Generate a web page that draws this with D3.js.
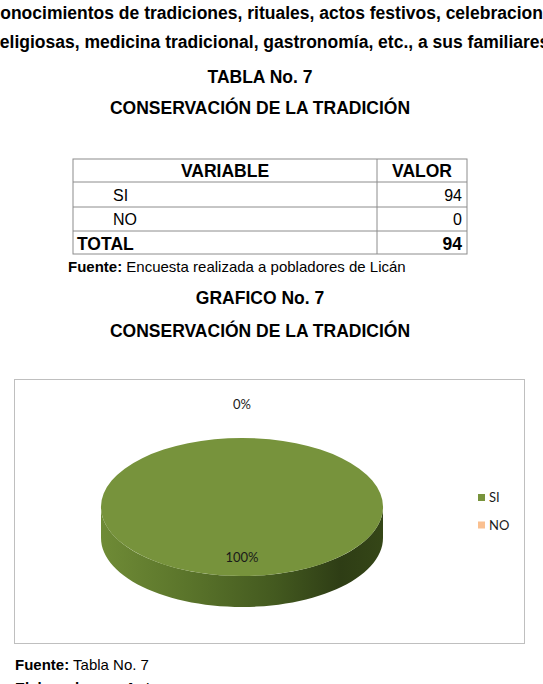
<!DOCTYPE html>
<html>
<head>
<meta charset="utf-8">
<script src="https://cdn.jsdelivr.net/npm/d3@7"></script>
<style>
  body { margin: 0; background: #fff; }
  svg { display: block; }
  .head { font-family: "Liberation Sans", Arial, sans-serif; font-weight: bold; font-size: 17.5px; fill: #000; }
  .cell { font-family: "Liberation Sans", Arial, sans-serif; font-size: 16px; fill: #000; }
  .cell.b { font-weight: bold; font-size: 17.5px; }
  .note { font-family: "Liberation Sans", Arial, sans-serif; font-size: 15px; fill: #000; }
  .lbl { font-family: Lato, "Open Sans", sans-serif; font-size: 13px; fill: #1a1a1a; }
</style>
</head>
<body>
<svg id="main" width="543" height="684"></svg>
<script>
const categories = ['SI', 'NO'];
const values = [94, 0];
const colors = ['#77933C', '#FAC090'];
const total = d3.sum(values);

const svg = d3.select('svg#main');

// heading lines (cut off by the page edges, as in the scan)
svg.append('text').attr('class', 'head').attr('font-size', 17.8).attr('x', -9.5).attr('y', 19)
  .text('conocimientos de tradiciones, rituales, actos festivos, celebraciones');
svg.append('text').attr('class', 'head').attr('font-size', 17.8).attr('x', -7).attr('y', 48)
  .text('religiosas, medicina tradicional, gastronomía, etc., a sus familiares');
svg.append('text').attr('class', 'head').attr('x', 260).attr('y', 83)
  .attr('text-anchor', 'middle').text('TABLA No. 7');
svg.append('text').attr('class', 'head').attr('x', 260).attr('y', 114)
  .attr('text-anchor', 'middle').text('CONSERVACIÓN DE LA TRADICIÓN');

// table
const tLeft = 73, tRight = 467, tMid = 377;
const rowY = [159, 182, 207, 231, 254];
const table = svg.append('g');
table.append('rect')
  .attr('x', tLeft).attr('y', rowY[0])
  .attr('width', tRight - tLeft).attr('height', rowY[4] - rowY[0])
  .attr('fill', 'none').attr('stroke', '#8c8c8c');
rowY.slice(1, 4).forEach(y => {
  table.append('line').attr('x1', tLeft).attr('x2', tRight).attr('y1', y).attr('y2', y)
    .attr('stroke', '#8c8c8c');
});
table.append('line').attr('x1', tMid).attr('x2', tMid).attr('y1', rowY[0]).attr('y2', rowY[4])
  .attr('stroke', '#8c8c8c');

table.append('text').attr('class', 'cell b')
  .attr('x', (tLeft + tMid) / 2).attr('y', rowY[1] - 5).attr('text-anchor', 'middle').text('VARIABLE');
table.append('text').attr('class', 'cell b')
  .attr('x', (tMid + tRight) / 2).attr('y', rowY[1] - 5).attr('text-anchor', 'middle').text('VALOR');

categories.forEach((c, i) => {
  table.append('text').attr('class', 'cell')
    .attr('x', 113).attr('y', rowY[i + 2] - 6).text(c);
  table.append('text').attr('class', 'cell')
    .attr('x', tRight - 5).attr('y', rowY[i + 2] - 6).attr('text-anchor', 'end').text(values[i]);
});
table.append('text').attr('class', 'cell b')
  .attr('x', 77).attr('y', rowY[4] - 4).text('TOTAL');
table.append('text').attr('class', 'cell b')
  .attr('x', tRight - 5).attr('y', rowY[4] - 4).attr('text-anchor', 'end').text(total);

const src1 = svg.append('text').attr('class', 'note').attr('x', 68).attr('y', 272);
src1.append('tspan').attr('font-weight', 'bold').text('Fuente:');
src1.append('tspan').text(' Encuesta realizada a pobladores de Licán');

svg.append('text').attr('class', 'head').attr('x', 260).attr('y', 304)
  .attr('text-anchor', 'middle').text('GRAFICO No. 7');
svg.append('text').attr('class', 'head').attr('x', 260).attr('y', 337)
  .attr('text-anchor', 'middle').text('CONSERVACIÓN DE LA TRADICIÓN');

// chart frame
svg.append('rect')
  .attr('x', 14.5).attr('y', 379.5).attr('width', 510).attr('height', 264)
  .attr('fill', '#fff').attr('stroke', '#bfbfbf');

// 3d pie
const cx = 242, cy = 507, rx = 141, ry = 69, depth = 31;
const k = ry / rx;

const defs = svg.append('defs');
const grad = defs.append('linearGradient').attr('id', 'side')
  .attr('x1', 0).attr('x2', 1).attr('y1', 0).attr('y2', 0);
[['0%', '#6f8b36'], ['30%', '#5b752b'], ['62%', '#43591f'], ['85%', '#2e3d15'], ['100%', '#354617']]
  .forEach(([o, c]) => grad.append('stop').attr('offset', o).attr('stop-color', c));

const pie = d3.pie().sort(null).value(d => d)(values);
const arc = d3.arc().innerRadius(0).outerRadius(rx);

const g = svg.append('g').attr('transform', `translate(${cx},${cy})`);

// side walls: only the front half of the ellipse
function wallPath(a0, a1) {
  const lo = Math.max(a0, Math.PI / 2), hi = Math.min(a1, 3 * Math.PI / 2);
  if (hi <= lo) return null;
  const pts = d3.range(0, 61).map(i => lo + (hi - lo) * i / 60);
  const top = pts.map(a => [rx * Math.sin(a), -ry * Math.cos(a)]);
  const bot = pts.slice().reverse().map(a => [rx * Math.sin(a), -ry * Math.cos(a) + depth]);
  return d3.line()(top.concat(bot)) + 'Z';
}
pie.forEach((d, i) => {
  const p = wallPath(d.startAngle, d.endAngle);
  if (p) g.append('path').attr('d', p).attr('fill', i === 0 ? 'url(#side)' : d3.color(colors[i]).darker(0.6));
});

g.append('g').attr('transform', `scale(1,${k})`)
  .selectAll('path').data(pie).join('path')
  .attr('d', arc)
  .attr('fill', (d, i) => colors[i]);

// percent labels
const fmt = d3.format('.0%');
pie.forEach((d, i) => {
  const mid = (d.startAngle + d.endAngle) / 2;
  const r = d.value === 0 ? rx * 1.49 : rx * 0.72;
  g.append('text').attr('class', 'lbl')
    .attr('x', r * Math.sin(mid))
    .attr('y', -r * Math.cos(mid) * k + 5)
    .attr('text-anchor', 'middle')
    .text(fmt(d.value / total));
});

// legend
const leg = svg.append('g').attr('transform', 'translate(478,494)');
categories.forEach((c, i) => {
  leg.append('rect').attr('x', 0).attr('y', i * 27.5).attr('width', 7).attr('height', 7).attr('fill', colors[i]);
  leg.append('text').attr('class', 'lbl').attr('x', 11).attr('y', i * 27.5 + 8).text(c);
});

const src2 = svg.append('text').attr('class', 'note').attr('font-size', 13.2).attr('x', 15).attr('y', 670);
src2.append('tspan').attr('font-weight', 'bold').text('Fuente:');
src2.append('tspan').text(' Tabla No. 7');

svg.append('text').attr('class', 'note').attr('font-size', 13.2).attr('font-weight', 'bold')
  .attr('x', 15).attr('y', 693).text('Elaborado por: Autor');
</script>
</body>
</html>
